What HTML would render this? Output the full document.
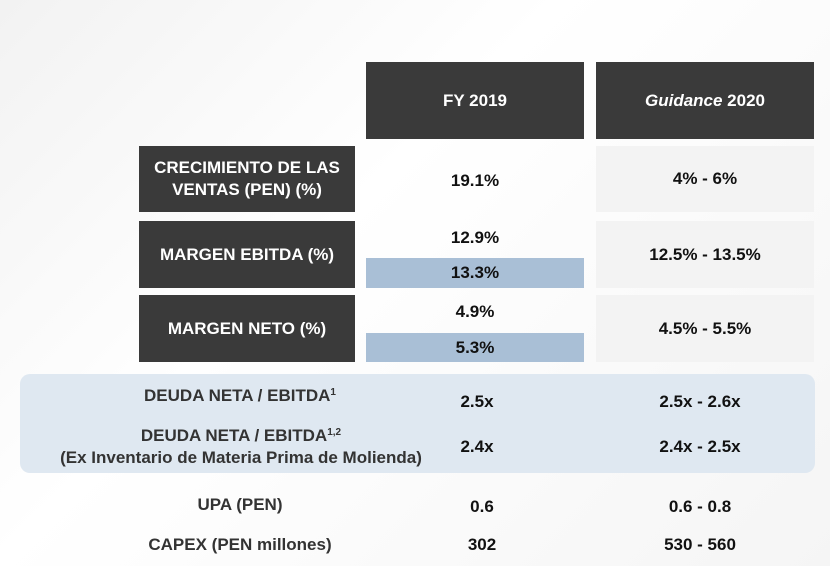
<!DOCTYPE html>
<html><head><meta charset="utf-8"><style>
body{margin:0;width:830px;height:566px;background:#fff;font-family:"Liberation Sans",sans-serif;font-weight:bold;position:relative;overflow:hidden}
.a{position:absolute;display:flex;align-items:center;justify-content:center;text-align:center;font-size:17px;color:#111;box-sizing:border-box;white-space:nowrap}
.d{background:#3a3a3a;color:#fff}
.g{background:#f3f3f3}
.b{background:#a9bfd6}
sup{font-size:10px;vertical-align:6px;line-height:0}
</style></head><body>
<div class="a" style="left:0;top:0;width:830px;height:566px;background:linear-gradient(135deg,#f2f2f2,#fff 40%,#f5f5f5)"></div>
<div class="a d" style="left:366px;top:62px;width:218px;height:77px">FY 2019</div>
<div class="a d" style="left:596px;top:62px;width:218px;height:77px"><span><i>Guidance</i> 2020</span></div>

<div class="a d" style="left:139px;top:146px;width:216px;height:66px;line-height:22px"><span>CRECIMIENTO DE LAS<br>VENTAS (PEN) (%)</span></div>
<div class="a" style="left:366px;top:146px;width:218px;height:70px">19.1%</div>
<div class="a g" style="left:596px;top:146px;width:218px;height:66px">4% - 6%</div>

<div class="a d" style="left:139px;top:221px;width:216px;height:67px">MARGEN EBITDA (%)</div>
<div class="a" style="left:366px;top:224px;width:218px;height:28px">12.9%</div>
<div class="a b" style="left:366px;top:258px;width:218px;height:30px">13.3%</div>
<div class="a g" style="left:596px;top:221px;width:218px;height:67px">12.5% - 13.5%</div>

<div class="a d" style="left:139px;top:295px;width:216px;height:67px">MARGEN NETO (%)</div>
<div class="a" style="left:366px;top:298px;width:218px;height:28px">4.9%</div>
<div class="a b" style="left:366px;top:333px;width:218px;height:29px">5.3%</div>
<div class="a g" style="left:596px;top:295px;width:218px;height:67px">4.5% - 5.5%</div>

<div class="a" style="left:20px;top:374px;width:795px;height:99px;background:#dfe8f1;border-radius:10px"></div>
<div class="a" style="left:40px;top:385px;width:400px;height:22px;color:#333"><span>DEUDA NETA / EBITDA<sup>1</sup></span></div>
<div class="a" style="left:427px;top:391px;width:100px;height:22px">2.5x</div>
<div class="a" style="left:620px;top:391px;width:160px;height:22px">2.5x - 2.6x</div>
<div class="a" style="left:1px;top:425px;width:480px;height:44px;line-height:22px;color:#333"><span>DEUDA NETA / EBITDA<sup>1,2</sup><br><span style="font-size:17px">(Ex Inventario de Materia Prima de Molienda)</span></span></div>
<div class="a" style="left:427px;top:436px;width:100px;height:22px">2.4x</div>
<div class="a" style="left:620px;top:436px;width:160px;height:22px">2.4x - 2.5x</div>

<div class="a" style="left:40px;top:494px;width:400px;height:22px;color:#333">UPA (PEN)</div>
<div class="a" style="left:432px;top:496px;width:100px;height:22px">0.6</div>
<div class="a" style="left:620px;top:496px;width:160px;height:22px">0.6 - 0.8</div>
<div class="a" style="left:40px;top:534px;width:400px;height:22px;color:#333">CAPEX (PEN millones)</div>
<div class="a" style="left:432px;top:534px;width:100px;height:22px">302</div>
<div class="a" style="left:620px;top:534px;width:160px;height:22px">530 - 560</div>
</body></html>
